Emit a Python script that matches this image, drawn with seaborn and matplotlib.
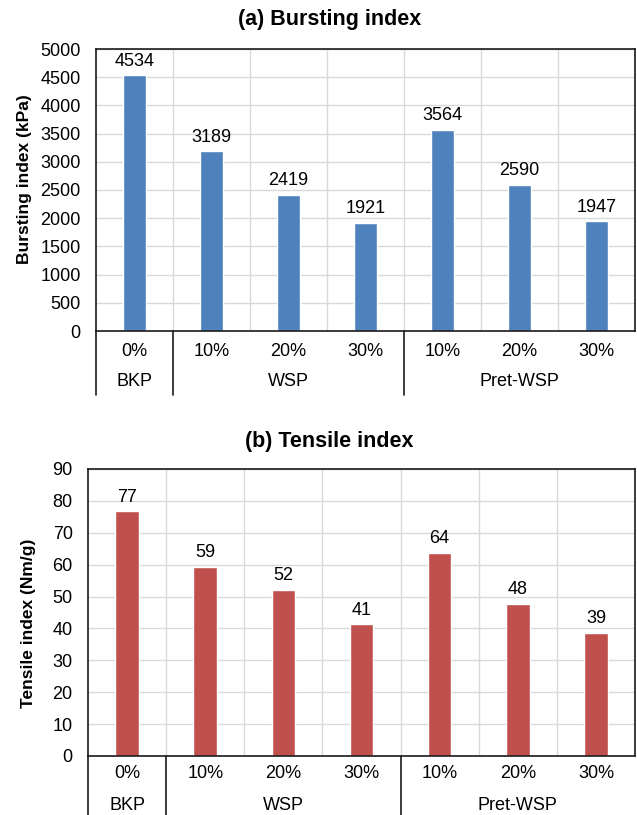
import matplotlib
matplotlib.use("Agg")
import matplotlib.pyplot as plt
import seaborn as sns
import pandas as pd

# Data.
levels = ["0%", "10%", "20%", "30%", "10%", "20%", "30%"]
groups = ["BKP", "WSP", "WSP", "WSP", "Pret-WSP", "Pret-WSP", "Pret-WSP"]
bursting = [4534, 3189, 2419, 1921, 3564, 2590, 1947]
tensile = [76.8, 59.4, 52.1, 41.3, 63.7, 47.7, 38.6]

sns.set_style("white")
plt.rcParams["font.family"] = ["Liberation Sans", "DejaVu Sans"]
plt.rcParams["text.color"] = "black"
plt.rcParams["ytick.color"] = "black"
plt.rcParams["ytick.labelcolor"] = "black"

fig = plt.figure(figsize=(6.37, 8.15), dpi=100)
W, H = 637, 815
FS = 13


def panel(rect, values, color, ymax, step, title, title_xy, ylabel, ylabel_xy,
          tick_off, group_off, sep_off, fmt):
    left, top, right, bottom = rect
    ax = fig.add_axes([left / W, 1 - bottom / H, (right - left) / W, (bottom - top) / H])
    df = pd.DataFrame({"key": [f"{g} {l}" for g, l in zip(groups, levels)],
                       "value": values})
    sns.barplot(data=df, x="key", y="value", color=color, width=0.3,
                saturation=1, ax=ax)
    ax.set_xlim(-0.5, len(values) - 0.5)
    ax.set_ylim(0, ymax)
    ax.set_yticks(range(0, ymax + 1, step))
    ax.set_xticks([i + 0.5 for i in range(len(values) - 1)])
    ax.set_xticklabels([])
    ax.grid(True, color="#D9D9D9", linewidth=1)
    ax.set_axisbelow(True)
    ax.tick_params(axis="both", length=0, labelsize=FS, pad=11)
    for s in ax.spines.values():
        s.set_color("#1a1a1a")
        s.set_linewidth(1.2)
    ax.set_xlabel("")
    ax.set_ylabel("")
    ax.bar_label(ax.containers[0], labels=[fmt.format(v) for v in values],
                 padding=4, fontsize=FS)

    height = bottom - top
    tr = ax.get_xaxis_transform()
    for i, lab in enumerate(levels):
        ax.text(i, -tick_off / height, lab, transform=tr, ha="center",
                va="center", fontsize=FS)
    # group labels and separators
    spans = []
    for i, g in enumerate(groups):
        if spans and spans[-1][0] == g:
            spans[-1][2] = i
        else:
            spans.append([g, i, i])
    for g, a, b in spans:
        ax.text((a + b) / 2, -group_off / height, g, transform=tr, ha="center",
                va="center", fontsize=FS)
        ax.plot([a - 0.5, a - 0.5], [0, -sep_off / height], transform=tr,
                color="#1a1a1a", linewidth=1.2, clip_on=False)

    fig.text(title_xy[0] / W, 1 - title_xy[1] / H, title, ha="center",
             va="center", fontsize=15.5, fontweight="bold")
    fig.text(ylabel_xy[0] / W, 1 - ylabel_xy[1] / H, ylabel, rotation=90,
             ha="center", va="bottom", fontsize=12.5, fontweight="bold")
    return ax


panel((96, 49, 635, 331), bursting, "#4F81BD", 5000, 500,
      "(a) Bursting index", (330, 20), "Bursting index (kPa)", (25, 264),
      21, 51, 64, "{:.0f}")
panel((88, 469, 635, 756), tensile, "#C0504D", 90, 10,
      "(b) Tensile index", (329, 442), "Tensile index (Nm/g)", (28, 708),
      18, 49, 62, "{:.0f}")

fig.savefig("out.png", dpi=100)
